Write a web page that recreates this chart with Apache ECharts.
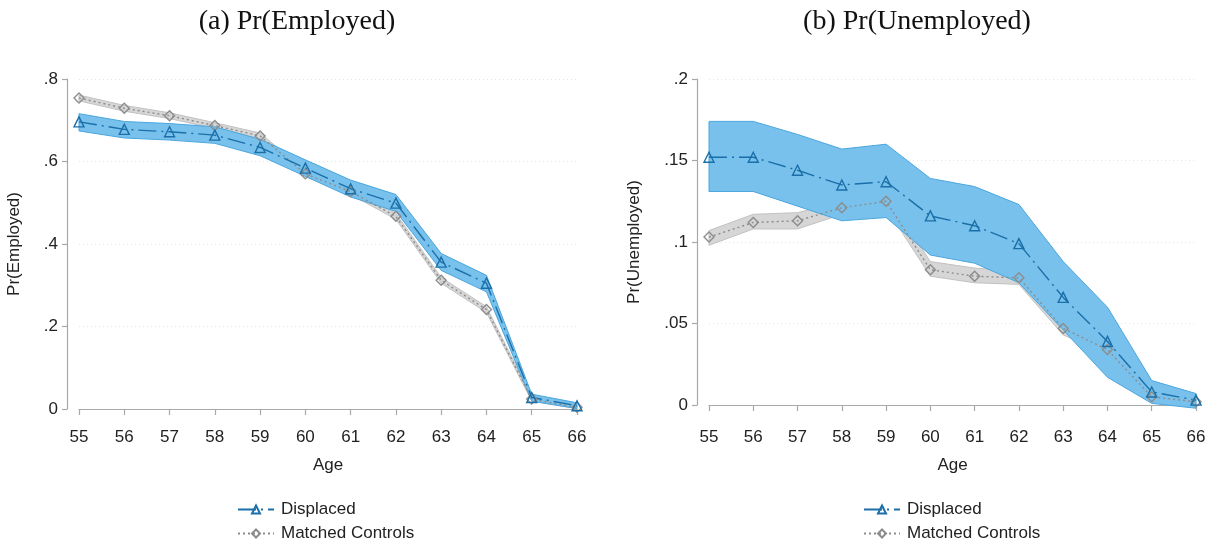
<!DOCTYPE html>
<html>
<head>
<meta charset="utf-8">
<script src="https://cdn.jsdelivr.net/npm/echarts@6/dist/echarts.min.js"></script>
<style>
  html, body { margin: 0; padding: 0; background: #fff; }
  #chart { width: 1211px; height: 544px; }
</style>
</head>
<body>
<div id="chart"></div>
<script>
// ages on the x axis
var ages = [55, 56, 57, 58, 59, 60, 61, 62, 63, 64, 65, 66];

// (a) Pr(Employed)
var empDisp   = [0.696, 0.678, 0.672, 0.664, 0.634, 0.584, 0.534, 0.499, 0.356, 0.305, 0.028, 0.008];
var empDispLo = [0.674, 0.657, 0.652, 0.644, 0.614, 0.564, 0.514, 0.479, 0.336, 0.284, 0.019, 0.001];
var empDispHi = [0.716, 0.697, 0.692, 0.684, 0.654, 0.604, 0.555, 0.520, 0.377, 0.324, 0.036, 0.015];
var empCtrl   = [0.754, 0.729, 0.711, 0.687, 0.662, 0.570, 0.527, 0.467, 0.312, 0.241, 0.024, 0.004];
var empCtrlLo = [0.747, 0.722, 0.704, 0.680, 0.655, 0.563, 0.520, 0.460, 0.305, 0.234, 0.019, 0.001];
var empCtrlHi = [0.761, 0.736, 0.718, 0.694, 0.669, 0.577, 0.534, 0.474, 0.319, 0.248, 0.029, 0.007];

// (b) Pr(Unemployed)
var unDisp   = [0.152, 0.152, 0.144, 0.135, 0.137, 0.116, 0.110, 0.099, 0.066, 0.039, 0.008, 0.003];
var unDispLo = [0.131, 0.131, 0.122, 0.113, 0.115, 0.092, 0.087, 0.075, 0.046, 0.017, 0.001, -0.002];
var unDispHi = [0.174, 0.174, 0.166, 0.157, 0.160, 0.139, 0.134, 0.123, 0.088, 0.060, 0.015, 0.007];
var unCtrl   = [0.103, 0.112, 0.113, 0.121, 0.125, 0.083, 0.079, 0.078, 0.047, 0.034, 0.005, 0.002];
var unCtrlLo = [0.098, 0.108, 0.108, 0.117, 0.121, 0.079, 0.075, 0.074, 0.043, 0.031, 0.003, 0.000];
var unCtrlHi = [0.107, 0.117, 0.118, 0.125, 0.129, 0.088, 0.084, 0.082, 0.051, 0.038, 0.007, 0.004];

var titles = ['(a) Pr(Employed)', '(b) Pr(Unemployed)'];
var yNames = ['Pr(Employed)', 'Pr(Unemployed)'];
var yTicks = [[0, 0.8, 0.2], [0, 0.2, 0.05]]; // min, max, interval
var legendNames = ['Displaced', 'Matched Controls'];

var sans = 'Liberation Sans, Arial, sans-serif';
var BLUE_LINE = '#1b6fa8', BLUE_FILL = '#78c1ec', BLUE_EDGE = '#4aa6de';
var GRAY_LINE = '#8c8c8c', GRAY_FILL = '#d6d6d6', GRAY_EDGE = '#c2c2c2';

// stata style labels: .8 instead of 0.8
function stataNum(v) {
    if (v == 0) return '0';
    return String(+v.toFixed(2)).replace(/^0/, '');
}

// confidence band as one polygon, through the axis scale
function band(gridIdx, lo, hi, fill, edge) {
    return {
        type: 'custom',
        xAxisIndex: gridIdx,
        yAxisIndex: gridIdx,
        silent: true,
        clip: false,
        data: ages.map(function(a, i) { return [a, lo[i], hi[i]]; }),
        renderItem: function(params, api) {
            if (params.dataIndex !== 0) return null;
            var pts = [];
            for (var i = 0; i < ages.length; i++) pts.push(api.coord([ages[i], hi[i]]));
            for (var j = ages.length - 1; j >= 0; j--) pts.push(api.coord([ages[j], lo[j]]));
            return {
                type: 'polygon',
                shape: { points: pts },
                style: { fill: fill, stroke: edge, lineWidth: 1 }
            };
        }
    };
}

function line(gridIdx, name, vals, color, symbol, size, dash) {
    return {
        type: 'line',
        name: name,
        xAxisIndex: gridIdx,
        yAxisIndex: gridIdx,
        clip: false,
        data: ages.map(function(a, i) { return [a, vals[i]]; }),
        symbol: symbol,
        symbolSize: size,
        showAllSymbol: true,
        lineStyle: { color: color, width: 1.4, type: dash },
        itemStyle: { color: 'rgba(255,255,255,0)', borderColor: color, borderWidth: 1.4 },
        emphasis: { disabled: true }
    };
}

var grids = [
    { left: 79, top: 79, width: 498, height: 330 },
    { left: 709, top: 79, width: 487, height: 326 }
];
var xOffsets = [11, 15];

// one legend box per row so nothing wraps
var legends = [];
[232, 858].forEach(function(x) {
    legendNames.forEach(function(n, r) {
        legends.push({
            left: x,
            top: 496 + r * 24,
            itemWidth: 36,
            itemHeight: 10,
            selectedMode: false,
            data: [n],
            textStyle: { fontFamily: sans, fontSize: 17, color: '#222', padding: [0, 0, 0, 2] }
        });
    });
});

var option = {
    backgroundColor: '#fff',
    animation: false,
    title: titles.map(function(t, k) {
        return {
            text: t,
            left: k == 0 ? 292 : 912,
            top: 3,
            textAlign: 'center',
            textStyle: { fontFamily: 'Liberation Serif, Times New Roman, serif', fontSize: 28, fontWeight: 'normal', color: '#111' }
        };
    }),
    grid: grids,
    xAxis: grids.map(function(g, k) {
        return {
            type: 'value',
            gridIndex: k,
            min: 55, max: 66, interval: 1,
            offset: xOffsets[k],
            name: 'Age',
            nameLocation: 'middle',
            nameGap: 37,
            nameTextStyle: { fontFamily: sans, fontSize: 17, color: '#222' },
            axisLine: { lineStyle: { color: '#a8a8a8', width: 1.2 } },
            axisTick: { length: 6, lineStyle: { color: '#a8a8a8', width: 1.2 } },
            axisLabel: { fontFamily: sans, fontSize: 17, color: '#222', margin: 9 },
            splitLine: { show: false }
        };
    }),
    yAxis: grids.map(function(g, k) {
        return {
            type: 'value',
            gridIndex: k,
            min: yTicks[k][0], max: yTicks[k][1], interval: yTicks[k][2],
            offset: 12,
            name: yNames[k],
            nameLocation: 'middle',
            nameGap: k == 0 ? 44 : 54,
            nameTextStyle: { fontFamily: sans, fontSize: 17, color: '#222' },
            axisLine: { show: true, lineStyle: { color: '#a8a8a8', width: 1.2 } },
            axisTick: { show: true, length: 5, lineStyle: { color: '#a8a8a8', width: 1.2 } },
            axisLabel: { fontFamily: sans, fontSize: 17, color: '#222', margin: 9, formatter: stataNum },
            splitLine: { show: true, lineStyle: { color: '#e4e4e4', width: 1, type: [1, 3] } }
        };
    }),
    legend: legends,
    series: [
        band(0, empCtrlLo, empCtrlHi, GRAY_FILL, GRAY_EDGE),
        band(0, empDispLo, empDispHi, BLUE_FILL, BLUE_EDGE),
        line(0, 'Matched Controls', empCtrl, GRAY_LINE, 'diamond', 10, [2, 3]),
        line(0, 'Displaced', empDisp, BLUE_LINE, 'triangle', 10, [18, 5, 2, 5]),
        band(1, unCtrlLo, unCtrlHi, GRAY_FILL, GRAY_EDGE),
        band(1, unDispLo, unDispHi, BLUE_FILL, BLUE_EDGE),
        line(1, 'Matched Controls', unCtrl, GRAY_LINE, 'diamond', 10, [2, 3]),
        line(1, 'Displaced', unDisp, BLUE_LINE, 'triangle', 10, [18, 5, 2, 5])
    ]
};

var chart = echarts.init(document.getElementById('chart'));
chart.setOption(option);
</script>
</body>
</html>
